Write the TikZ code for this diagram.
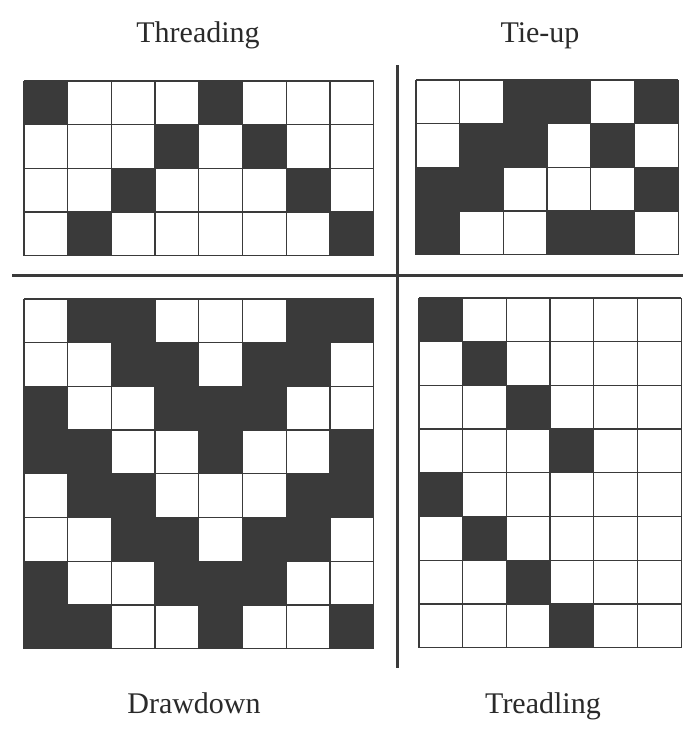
\documentclass[tikz,border=0pt]{standalone}
\usepackage{fontspec}
\setmainfont{Liberation Serif}
\definecolor{ink}{HTML}{3A3A3A}
\definecolor{txt}{HTML}{2A2A2A}
\newcommand\wgrid[5]{%
  \foreach \c/\r in {#5}{\fill[ink] ({#1+(\c-1)*43.7},{#2+(\r-1)*43.7}) rectangle ++(43.7,43.7);}
  \foreach \i in {0,...,#3}{\draw[cellline] ({#1+\i*43.7},#2) -- ++(0,{#4*43.7});}
  \foreach \j in {0,...,#4}{\draw[cellline] (#1,{#2+\j*43.7}) -- ++({#3*43.7},0);}
}
\begin{document}
\begin{tikzpicture}[x=1pt,y=-1pt,
  cellline/.style={draw=ink,line width=1.3pt},
  sep/.style={draw=ink,line width=3pt},
  lbl/.style={font=\fontsize{30}{33}\selectfont,text=txt,anchor=base,inner sep=0pt}]
\useasboundingbox (0,0) rectangle (683,731);
\fill[white] (0,0) rectangle (683,731);
% Threading
\wgrid{24}{81}{8}{4}{1/1,5/1,4/2,6/2,3/3,7/3,2/4,8/4}
% Tie-up
\wgrid{416}{80}{6}{4}{3/1,4/1,6/1,2/2,3/2,5/2,1/3,2/3,6/3,1/4,4/4,5/4}
% Drawdown
\wgrid{24}{299}{8}{8}{2/1,3/1,7/1,8/1,3/2,4/2,6/2,7/2,1/3,4/3,5/3,6/3,1/4,2/4,5/4,8/4,2/5,3/5,7/5,8/5,3/6,4/6,6/6,7/6,1/7,4/7,5/7,6/7,1/8,2/8,5/8,8/8}
% Treadling
\wgrid{419}{298}{6}{8}{1/1,2/2,3/3,4/4,1/5,2/6,3/7,4/8}
% separators
\coordinate (hl) at (12,275);
\coordinate (hr) at (683,275);
\coordinate (vt) at (397,65);
\coordinate (vb) at (397,668);
\draw[sep] (hl) -- (hr);
\draw[sep] (vt) -- (vb);
% labels
\node[lbl] (threading) at (198,42) {Threading};
\node[lbl] (tieup) at (540,42) {Tie-up};
\node[lbl] (drawdown) at (194,713) {Drawdown};
\node[lbl] (treadling) at (543,713) {Treadling};
\end{tikzpicture}
\end{document}
